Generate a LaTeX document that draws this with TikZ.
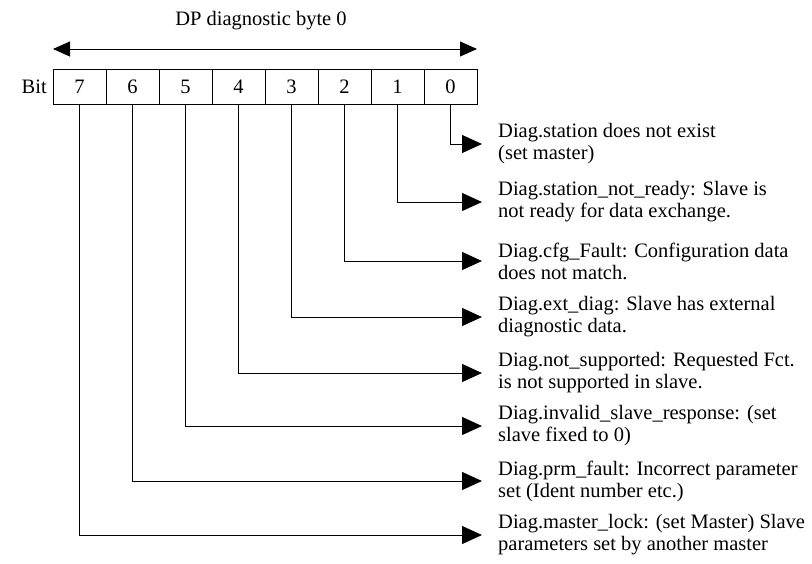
\documentclass[tikz,border=0pt]{standalone}
\usepackage{fontspec}
\setmainfont{Liberation Serif}
\usetikzlibrary{arrows.meta,positioning}
\newcommand{\diagfont}{\fontsize{20.5}{22}\selectfont}
\tikzset{
  bitbox/.style  ={draw, line width=0.9pt, minimum width=53pt, minimum height=35pt, inner sep=0pt, outer sep=0pt, font=\diagfont},
  lbl/.style     ={align=left, inner sep=0pt, anchor=west, font=\diagfont},
  arr/.style     ={-{Triangle[length=20pt,width=18pt]}, line width=0.9pt},
  widtharr/.style={{Triangle[length=17pt,width=15pt]}-{Triangle[length=17pt,width=15pt]}, line width=0.9pt},
}

\begin{document}
\begin{tikzpicture}[x=1pt, y=1pt]
  \useasboundingbox (0,0) rectangle (812,-563);
  % the byte
  \node[bitbox, anchor=north west] (b7) at (53,-69) {7};
  \node[bitbox, right=0pt of b7] (b6) {6};
  \node[bitbox, right=0pt of b6] (b5) {5};
  \node[bitbox, right=0pt of b5] (b4) {4};
  \node[bitbox, right=0pt of b4] (b3) {3};
  \node[bitbox, right=0pt of b3] (b2) {2};
  \node[bitbox, right=0pt of b2] (b1) {1};
  \node[bitbox, right=0pt of b1] (b0) {0};
  \node[font=\diagfont, inner sep=0pt, left=6pt of b7] (bit) {Bit};
  \node[font=\diagfont, inner sep=0pt] (title) at (261,-21) {DP diagnostic byte 0};
  \draw[widtharr] ([yshift=20pt]b7.north west) -- ([yshift=20pt]b0.north east);
  % meaning of each bit
  \node[lbl] (l0) at (498,-144) {Diag.station does not exist\\(set master)};
  \node[lbl] (l1) at (498,-202) {Diag.station\_not\_ready: Slave is\\not ready for data exchange.};
  \node[lbl] (l2) at (498,-261) {Diag.cfg\_Fault: Configuration data\\does not match.};
  \node[lbl] (l3) at (498,-317) {Diag.ext\_diag: Slave has external\\diagnostic data.};
  \node[lbl] (l4) at (498,-373) {Diag.not\_supported: Requested Fct.\\is not supported in slave.};
  \node[lbl] (l5) at (498,-426) {Diag.invalid\_slave\_response: (set\\slave fixed to 0)};
  \node[lbl] (l6) at (498,-481) {Diag.prm\_fault: Incorrect parameter\\set (Ident number etc.)};
  \node[lbl] (l7) at (498,-535) {Diag.master\_lock: (set Master) Slave\\parameters set by another master};
  \draw[arr] (b0.south) |- ([xshift=-16pt]l0.west);
  \draw[arr] (b1.south) |- ([xshift=-16pt]l1.west);
  \draw[arr] (b2.south) |- ([xshift=-16pt]l2.west);
  \draw[arr] (b3.south) |- ([xshift=-16pt]l3.west);
  \draw[arr] (b4.south) |- ([xshift=-16pt]l4.west);
  \draw[arr] (b5.south) |- ([xshift=-16pt]l5.west);
  \draw[arr] (b6.south) |- ([xshift=-16pt]l6.west);
  \draw[arr] (b7.south) |- ([xshift=-16pt]l7.west);
\end{tikzpicture}
\end{document}
